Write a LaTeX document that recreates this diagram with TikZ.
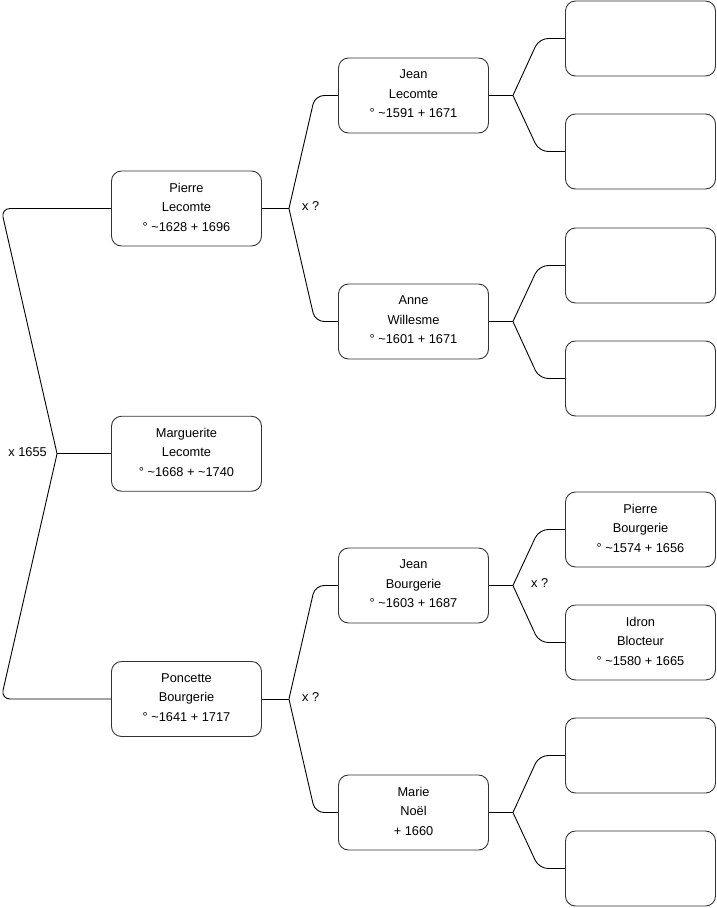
\documentclass[tikz,border=0pt]{standalone}
\usepackage{fontspec}
\setmainfont{Liberation Sans}
\usepackage{tikz}
\usetikzlibrary{positioning, calc}

\begin{document}
\begin{tikzpicture}[
          x=1pt, y=-1pt,
          person/.style={rectangle, rounded corners=10pt, draw=black!80, line width=0.9pt,
            minimum width=150pt, minimum height=75pt, inner sep=0pt, align=center,
            text depth=3pt, font=\fontsize{12.8}{19.5}\selectfont},
          link/.style={draw=black, line width=0.9pt, rounded corners=9pt},
          marriage/.style={font=\fontsize{12.8}{14}\selectfont, inner sep=0pt}
        ]
          \useasboundingbox (0,0) rectangle (716,908);
          % generation 1
          \node[person] (marguerite) at (186.5,453.75) {Marguerite\\Lecomte\\° \textasciitilde1668 + \textasciitilde1740};
          \node[person] (pierre) at (186.5,208.5) {Pierre\\Lecomte\\° \textasciitilde1628 + 1696};
          \node[person] (poncette) at (186.5,699) {Poncette\\Bourgerie\\° \textasciitilde1641 + 1717};
          % generation 2
          \node[person] (jeanL) at (413.5,95.5) {Jean\\Lecomte\\° \textasciitilde1591 + 1671};
          \node[person] (anne) at (413.5,321.5) {Anne\\Willesme\\° \textasciitilde1601 + 1671};
          \node[person] (jeanB) at (413.5,585.5) {Jean\\Bourgerie\\° \textasciitilde1603 + 1687};
          \node[person] (marie) at (413.5,812.5) {Marie\\Noël\\+ 1660};
          % generation 3
          \node[person] (jeanLf) at (640.5,38.5) {};
          \node[person] (jeanLm) at (640.5,151.5) {};
          \node[person] (annef) at (640.5,265.5) {};
          \node[person] (annem) at (640.5,378.5) {};
          \node[person] (pierreB) at (640.5,529.5) {Pierre\\Bourgerie\\° \textasciitilde1574 + 1656};
          \node[person] (idron) at (640.5,642.5) {Idron\\Blocteur\\° \textasciitilde1580 + 1665};
          \node[person] (marief) at (640.5,755.5) {};
          \node[person] (mariem) at (640.5,868.5) {};

          % brackets
          \coordinate (mj) at ($(marguerite.west)+(-54,0)$);
          \draw[link] (marguerite.west) -- (mj);
          \draw[link] (mj) -- ([xshift=-110pt]pierre.west) -- (pierre.west);
          \draw[link] (mj) -- ([xshift=-110pt]poncette.west) -- (poncette.west);
          \node[marriage, left=10pt of mj, yshift=2pt] (mm) {x 1655};

          \coordinate (pj) at ($(pierre.east)+(27,0)$);
          \draw[link] (pierre.east) -- (pj);
          \draw[link] (pj) -- ([xshift=-23pt]jeanL.west) -- (jeanL.west);
          \draw[link] (pj) -- ([xshift=-23pt]anne.west) -- (anne.west);
          \node[marriage, right=13pt of pj, yshift=2pt] (pm) {x ?};

          \coordinate (cj) at ($(poncette.east)+(27,0)$);
          \draw[link] (poncette.east) -- (cj);
          \draw[link] (cj) -- ([xshift=-23pt]jeanB.west) -- (jeanB.west);
          \draw[link] (cj) -- ([xshift=-23pt]marie.west) -- (marie.west);
          \node[marriage, right=13pt of cj, yshift=2pt] (cm) {x ?};

          \coordinate (jlj) at ($(jeanL.east)+(24,0)$);
          \draw[link] (jeanL.east) -- (jlj);
          \draw[link] (jlj) -- ([xshift=-26pt]jeanLf.west) -- (jeanLf.west);
          \draw[link] (jlj) -- ([xshift=-26pt]jeanLm.west) -- (jeanLm.west);

          \coordinate (aj) at ($(anne.east)+(24,0)$);
          \draw[link] (anne.east) -- (aj);
          \draw[link] (aj) -- ([xshift=-26pt]annef.west) -- (annef.west);
          \draw[link] (aj) -- ([xshift=-26pt]annem.west) -- (annem.west);

          \coordinate (jbj) at ($(jeanB.east)+(24,0)$);
          \draw[link] (jeanB.east) -- (jbj);
          \draw[link] (jbj) -- ([xshift=-26pt]pierreB.west) -- (pierreB.west);
          \draw[link] (jbj) -- ([xshift=-26pt]idron.west) -- (idron.west);
          \node[marriage, right=18pt of jbj, yshift=2pt] (jbm) {x ?};

          \coordinate (nj) at ($(marie.east)+(24,0)$);
          \draw[link] (marie.east) -- (nj);
          \draw[link] (nj) -- ([xshift=-26pt]marief.west) -- (marief.west);
          \draw[link] (nj) -- ([xshift=-26pt]mariem.west) -- (mariem.west);
        \end{tikzpicture}
\end{document}
